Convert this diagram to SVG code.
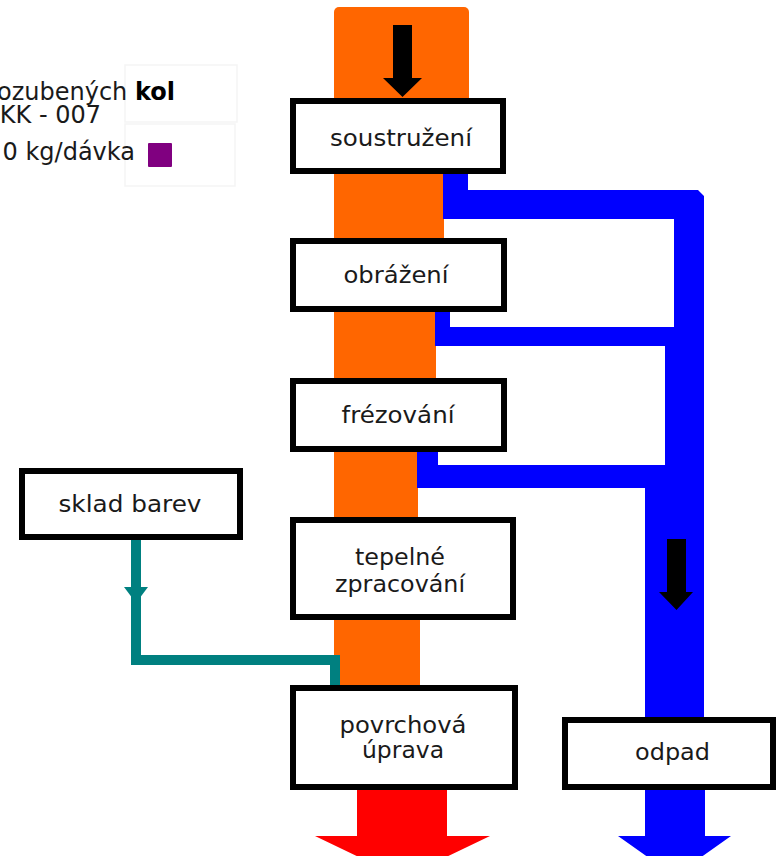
<svg xmlns="http://www.w3.org/2000/svg" width="776" height="856" viewBox="0 0 776 856">
<style>
.box{fill:#fff;stroke:#000;stroke-width:6}
.lbl{font-family:"DejaVu Sans",Verdana,sans-serif;font-size:23.5px;fill:#1a1a1a;text-anchor:middle}
.leg{font-family:"DejaVu Sans",Verdana,sans-serif;font-size:24px;fill:#1a1a1a;text-anchor:end}
.or{fill:#ff6600}
.bl{fill:#0000ff}
.blk{fill:#000}
.faint{fill:none;stroke:#f5f5f5;stroke-width:1.5}
</style>
<rect width="776" height="856" fill="#fff"/>
<g id="legend">
<rect class="faint" x="125" y="65" width="112" height="57"/>
<rect class="faint" x="125" y="124" width="110" height="62"/>
<text class="leg" x="175" y="100">ozubených <tspan font-weight="bold" fill="#000">kol</tspan></text>
<text class="leg" x="101" y="123">KK - 007</text>
<text class="leg" x="135" y="160">0 kg/dávka</text>
<rect x="148" y="143" width="24" height="24" fill="#800080" rx="1"/>
</g>
<g id="connectors">
<rect class="or" x="334" y="7" width="135" height="100" rx="5"/>
<rect class="or" x="334" y="165" width="110" height="80" rx="5"/>
<rect class="or" x="334" y="305" width="102" height="80" rx="5"/>
<rect class="or" x="334" y="445" width="84" height="80" rx="5"/>
<rect class="or" x="334" y="612" width="86" height="80" rx="5"/>
<path class="bl" d="M443,171 H468 V190 H698 L704,196 V720 H645 V488 H417 V452 H438 V465 H665 V346 H435 V309 H450 V327 H674 V219 H443 Z"/>
<path class="bl" d="M645,786 H705 V836 H731 L674.5,876 L618,836 H645 Z"/>
<path fill="#ff0000" d="M357,786 H447 V836 H490 L402.5,878 L315,836 H357 Z"/>
<path class="blk" d="M393,25 H412 V78 H422 L402.5,97 L383,78 H393 Z"/>
<path class="blk" d="M667,539 H686 V592 H693 L676.5,610 L659,592 H667 Z"/>
<path d="M136,540 V660 H335 V688" fill="none" stroke="#008080" stroke-width="10"/>
<path d="M124,587 H148 L136,603 Z" fill="#008080"/>
</g>
<g id="soustruzeni">
<rect class="box" x="293" y="101" width="210" height="70"/>
<text class="lbl" x="401" y="146" textLength="142" lengthAdjust="spacingAndGlyphs">soustružení</text>
</g>
<g id="obrazeni">
<rect class="box" x="293" y="241" width="211" height="68"/>
<text class="lbl" x="396" y="283" textLength="105" lengthAdjust="spacingAndGlyphs">obrážení</text>
</g>
<g id="frezovani">
<rect class="box" x="293" y="381" width="211" height="68"/>
<text class="lbl" x="398" y="423" textLength="113" lengthAdjust="spacingAndGlyphs">frézování</text>
</g>
<g id="tepelne">
<rect class="box" x="293" y="520" width="220" height="97"/>
<text class="lbl" x="400" y="565" textLength="90" lengthAdjust="spacingAndGlyphs">tepelné</text>
<text class="lbl" x="400" y="592" textLength="130" lengthAdjust="spacingAndGlyphs">zpracování</text>
</g>
<g id="povrchova">
<rect class="box" x="293" y="688" width="222" height="99"/>
<text class="lbl" x="403" y="733" textLength="127" lengthAdjust="spacingAndGlyphs">povrchová</text>
<text class="lbl" x="403" y="758" textLength="82" lengthAdjust="spacingAndGlyphs">úprava</text>
</g>
<g id="odpad">
<rect class="box" x="565" y="720" width="208" height="67"/>
<text class="lbl" x="672.5" y="760" textLength="75" lengthAdjust="spacingAndGlyphs">odpad</text>
</g>
<g id="sklad">
<rect class="box" x="22" y="471" width="218" height="66"/>
<text class="lbl" x="130" y="512" textLength="143" lengthAdjust="spacingAndGlyphs">sklad barev</text>
</g>
</svg>
